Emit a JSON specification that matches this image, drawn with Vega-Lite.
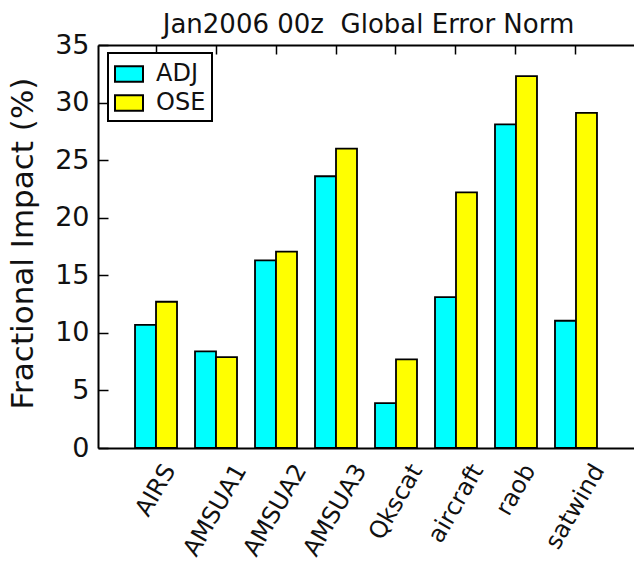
{
  "$schema": "https://vega.github.io/schema/vega-lite/v6.json",
  "autosize": "none",
  "width": 536,
  "height": 403,
  "padding": {"left": 98, "top": 45, "right": 0, "bottom": 115},
  "background": "white",
  "data": {
    "values": [
      {"cat": "AIRS", "series": "ADJ", "value": 10.7},
      {"cat": "AIRS", "series": "OSE", "value": 12.7},
      {"cat": "AMSUA1", "series": "ADJ", "value": 8.4},
      {"cat": "AMSUA1", "series": "OSE", "value": 7.9},
      {"cat": "AMSUA2", "series": "ADJ", "value": 16.3},
      {"cat": "AMSUA2", "series": "OSE", "value": 17.05},
      {"cat": "AMSUA3", "series": "ADJ", "value": 23.6},
      {"cat": "AMSUA3", "series": "OSE", "value": 26.0},
      {"cat": "Qkscat", "series": "ADJ", "value": 3.9},
      {"cat": "Qkscat", "series": "OSE", "value": 7.7},
      {"cat": "aircraft", "series": "ADJ", "value": 13.1},
      {"cat": "aircraft", "series": "OSE", "value": 22.2},
      {"cat": "raob", "series": "ADJ", "value": 28.1},
      {"cat": "raob", "series": "OSE", "value": 32.3},
      {"cat": "satwind", "series": "ADJ", "value": 11.05},
      {"cat": "satwind", "series": "OSE", "value": 29.1}
    ]
  },
  "layer": [
    {
      "mark": {"type": "bar", "stroke": "black", "strokeWidth": 1.8},
      "encoding": {
        "x": {
          "field": "cat",
          "type": "nominal",
          "sort": null,
          "scale": {"paddingInner": 0.3, "paddingOuter": 0.617},
          "axis": {
            "orient": "bottom",
            "title": null,
            "ticks": false,
            "domain": true,
            "domainColor": "black",
            "domainWidth": 2,
            "labelAngle": -60,
            "labelAlign": "right",
            "labelBaseline": "middle",
            "labelFont": "DejaVu Sans",
            "labelFontSize": 24,
            "labelColor": "#111",
            "labelPadding": 18,
            "labelOverlap": false,
            "labelLimit": 0,
            "labelOffset": {
              "condition": [
                {"test": "datum.value == 'AIRS' || datum.value == 'raob'", "value": 14},
                {"test": "datum.value == 'Qkscat'", "value": 21},
                {"test": "datum.value == 'aircraft'", "value": 22},
                {"test": "datum.value == 'satwind'", "value": 23}
              ],
              "value": 25
            }
          }
        },
        "xOffset": {
          "field": "series",
          "type": "nominal",
          "scale": {"paddingInner": 0, "paddingOuter": 0}
        },
        "y": {
          "field": "value",
          "type": "quantitative",
          "scale": {"domain": [0, 35], "nice": false},
          "axis": {
            "title": "Fractional Impact (%)",
            "titleFont": "DejaVu Sans",
            "titleFontSize": 31,
            "titleFontWeight": "normal",
            "titleColor": "#111",
            "titleX": -75,
            "titleY": 198,
            "titleAngle": 270,
            "titleAlign": "center",
            "titleBaseline": "middle",
            "values": [0, 5, 10, 15, 20, 25, 30, 35],
            "grid": false,
            "domain": true,
            "domainColor": "black",
            "domainWidth": 2,
            "ticks": true,
            "tickSize": -10,
            "tickColor": "black",
            "tickWidth": 1.5,
            "labelFont": "DejaVu Sans",
            "labelFontSize": 27,
            "labelColor": "#111",
            "labelPadding": 19,
            "labelBaseline": "middle"
          }
        },
        "fill": {
          "field": "series",
          "type": "nominal",
          "scale": {"domain": ["ADJ", "OSE"], "range": ["#00FFFF", "#FFFF00"]},
          "legend": {
            "title": null,
            "orient": "none",
            "legendX": 10,
            "legendY": 8,
            "padding": 6,
            "strokeColor": "black",
            "fillColor": "white",
            "symbolType": "M-1,-0.55L1,-0.55L1,0.55L-1,0.55Z",
            "symbolSize": 784,
            "symbolStrokeColor": "black",
            "symbolStrokeWidth": 2,
            "symbolOpacity": 1,
            "labelFont": "DejaVu Sans",
            "labelFontSize": 24,
            "labelColor": "#111",
            "labelOffset": 12,
            "rowPadding": 2
          }
        }
      }
    },
    {
      "mark": {"type": "bar", "opacity": 0},
      "encoding": {
        "x": {
          "field": "cat",
          "type": "nominal",
          "sort": null,
          "axis": {
            "orient": "top",
            "title": "Jan2006 00z\u00a0 Global Error Norm",
            "titleFont": "DejaVu Sans",
            "titleFontSize": 26,
            "titleFontWeight": "normal",
            "titleColor": "#111",
            "titleX": 270,
            "titleY": -13,
            "titleAlign": "center",
            "titleBaseline": "alphabetic",
            "labels": false,
            "ticks": true,
            "tickSize": -9,
            "tickColor": "black",
            "tickWidth": 1.5,
            "domain": true,
            "domainColor": "black",
            "domainWidth": 2
          }
        },
        "y": {"field": "value", "type": "quantitative", "axis": null}
      }
    }
  ],
  "resolve": {"axis": {"x": "independent", "y": "independent"}},
  "config": {"view": {"stroke": null}, "legend": {"strokeWidth": 2}}
}
